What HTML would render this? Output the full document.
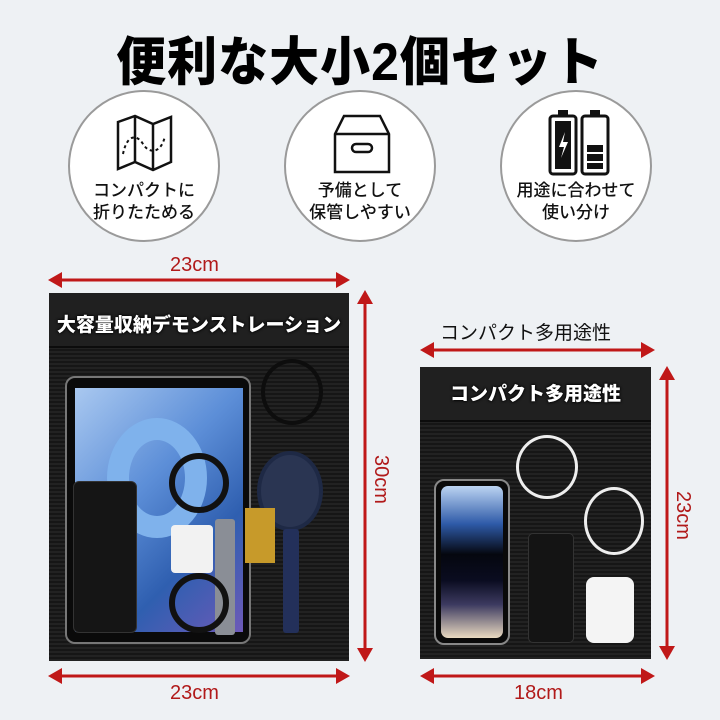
<!DOCTYPE html>
<html><head><meta charset="utf-8"><style>
*{margin:0;padding:0;box-sizing:border-box}
body{width:720px;height:720px;background:#eef1f4;position:relative;overflow:hidden;font-family:"Liberation Sans","Noto Sans CJK JP",sans-serif}
.abs{position:absolute}
.title{left:0;width:720px;top:22px;text-align:center;font-size:50px;font-weight:900;color:#000;letter-spacing:1px;transform:scaleY(1.05)}
.circ{width:152px;height:152px;border-radius:50%;background:#fff;border:2px solid #9a9a9a;top:90px}
.ct{position:absolute;left:0;width:100%;top:88px;text-align:center;font-size:17px;line-height:22px;color:#111;font-weight:500}
.bag{background:#1c1c1c;background-image:repeating-linear-gradient(0deg,#222 0 2px,#161616 2px 4px)}
.flap{position:absolute;left:0;right:0;top:0;z-index:5;background:#202020;border-bottom:2px solid #0c0c0c;color:#fff;font-weight:900;text-align:center;text-shadow:0 0 3px #000,0 0 2px #000}
.red{color:#b11a1a;font-size:20px}
</style></head><body>
<div class="abs title">便利な大小2個セット</div>

<div class="abs circ" style="left:68px">
<svg class="abs" style="left:45px;top:22px" width="60" height="58" viewBox="0 0 60 58" fill="none" stroke="#111" stroke-width="2.5"><path d="M3 8 L20 2 L38 10 L56 3 L56 48 L38 56 L20 48 L3 55 Z M20 2 V48 M38 10 V56"/><path d="M8 40 C12 20 22 20 28 30 C34 40 46 40 50 22" stroke-dasharray="3 3" stroke-width="2"/></svg>
<div class="ct">コンパクトに<br>折りたためる</div></div>
<div class="abs circ" style="left:284px">
<svg class="abs" style="left:46px;top:22px" width="60" height="60" viewBox="0 0 60 60" fill="none" stroke="#111" stroke-width="2.5"><path d="M12 2 H48 L57 20 V58 H3 V20 Z M3 20 H57"/><rect x="20" y="30" width="20" height="8" rx="4"/></svg>
<div class="ct">予備として<br>保管しやすい</div></div>
<div class="abs circ" style="left:500px">
<svg class="abs" style="left:46px;top:18px" width="62" height="66" viewBox="0 0 62 66"><rect x="10" y="0" width="10" height="6" fill="#111"/><rect x="2" y="6" width="26" height="58" rx="3" fill="#fff" stroke="#111" stroke-width="3"/><rect x="7" y="11" width="16" height="48" fill="#111"/><path d="M17 22 L11 37 H16 L13 48 L20 32 H15 Z" fill="#fff"/><rect x="42" y="0" width="10" height="6" fill="#111"/><rect x="34" y="6" width="26" height="58" rx="3" fill="#fff" stroke="#111" stroke-width="3"/><rect x="39" y="35" width="16" height="7" fill="#111"/><rect x="39" y="44" width="16" height="7" fill="#111"/><rect x="39" y="53" width="16" height="6" fill="#111"/></svg>
<div class="ct">用途に合わせて<br>使い分け</div></div>

<svg class="abs" style="left:0;top:0" width="720" height="720" fill="#c01818" stroke="#c01818">
<line x1="58" y1="280" x2="340" y2="280" stroke-width="3"/><path d="M48 280 L62 272 L62 288Z M350 280 L336 272 L336 288Z" stroke="none"/>
<line x1="58" y1="676" x2="340" y2="676" stroke-width="3"/><path d="M48 676 L62 668 L62 684Z M350 676 L336 668 L336 684Z" stroke="none"/>
<line x1="365" y1="300" x2="365" y2="652" stroke-width="3"/><path d="M365 290 L357 304 L373 304Z M365 662 L357 648 L373 648Z" stroke="none"/>
<line x1="430" y1="350" x2="645" y2="350" stroke-width="3"/><path d="M420 350 L434 342 L434 358Z M655 350 L641 342 L641 358Z" stroke="none"/>
<line x1="430" y1="676" x2="645" y2="676" stroke-width="3"/><path d="M420 676 L434 668 L434 684Z M655 676 L641 668 L641 684Z" stroke="none"/>
<line x1="667" y1="376" x2="667" y2="650" stroke-width="3"/><path d="M667 366 L659 380 L675 380Z M667 660 L659 646 L675 646Z" stroke="none"/>
</svg>
<div class="abs red" style="left:170px;top:254px">23cm</div>
<div class="abs red" style="left:170px;top:682px">23cm</div>
<div class="abs red" style="left:514px;top:682px">18cm</div>
<div class="abs red" style="left:356px;top:468px;transform:rotate(90deg)">30cm</div>
<div class="abs red" style="left:658px;top:504px;transform:rotate(90deg)">23cm</div>
<div class="abs" style="left:440px;top:318px;font-size:19px;color:#111">コンパクト多用途性</div>

<div class="abs bag" style="left:49px;top:293px;width:300px;height:368px">
<div class="flap" style="height:55px;font-size:19px;line-height:66px">大容量収納デモンストレーション</div>
<div class="abs" style="left:16px;top:83px;width:186px;height:268px;background:#0a0a0a;border:2px solid #777;border-radius:10px">
<div class="abs" style="left:8px;top:10px;width:168px;height:244px;background:linear-gradient(135deg,#a9c8f0,#5d8fd8 40%,#2f5fb0 70%,#6d5ab8)"></div>
<div class="abs" style="left:40px;top:40px;width:100px;height:120px;border-radius:50%;border:22px solid #7fb2ec"></div></div>
<div class="abs" style="left:24px;top:188px;width:64px;height:152px;background:#151515;border:1px solid #333;border-radius:6px"></div>
<div class="abs" style="left:122px;top:232px;width:42px;height:48px;background:#f2f2f2;border-radius:4px"></div>
<div class="abs" style="left:166px;top:226px;width:20px;height:116px;background:#8a8e96;border-radius:3px"></div>
<div class="abs" style="left:120px;top:160px;width:60px;height:60px;border:6px solid #111;border-radius:50%"></div>
<div class="abs" style="left:120px;top:280px;width:60px;height:60px;border:6px solid #111;border-radius:50%"></div>
<div class="abs" style="left:212px;top:66px;width:62px;height:66px;border:4px solid #0d0d0d;border-radius:50%"></div>
<div class="abs" style="left:208px;top:158px;width:66px;height:80px;background:#2a3552;border-radius:50%;border:4px solid #1e2945"></div>
<div class="abs" style="left:234px;top:236px;width:16px;height:104px;background:#23305a;border-radius:3px"></div>
<div class="abs" style="left:196px;top:215px;width:30px;height:55px;background:#c79a2a"></div>
</div>

<div class="abs bag" style="left:420px;top:367px;width:231px;height:292px">
<div class="flap" style="height:55px;font-size:19px;line-height:56px">コンパクト多用途性</div>
<div class="abs" style="left:14px;top:112px;width:76px;height:166px;background:#0a0a0a;border:2px solid #888;border-radius:10px"><div class="abs" style="left:5px;top:5px;width:62px;height:152px;border-radius:7px;background:linear-gradient(180deg,#bcd4f2 0%,#2e5aa8 25%,#05070f 45%,#0a0c20 62%,#3c3a60 78%,#e9d9c0 100%)"></div></div>
<div class="abs" style="left:108px;top:166px;width:46px;height:110px;background:#141414;border:1px solid #333;border-radius:5px"></div>
<div class="abs" style="left:96px;top:68px;width:62px;height:64px;border:3px solid #eee;border-radius:50%"></div>
<div class="abs" style="left:164px;top:120px;width:60px;height:68px;border:3px solid #eee;border-radius:50%"></div>
<div class="abs" style="left:166px;top:210px;width:48px;height:66px;background:#f4f4f4;border-radius:8px"></div>
</div>
</body></html>
